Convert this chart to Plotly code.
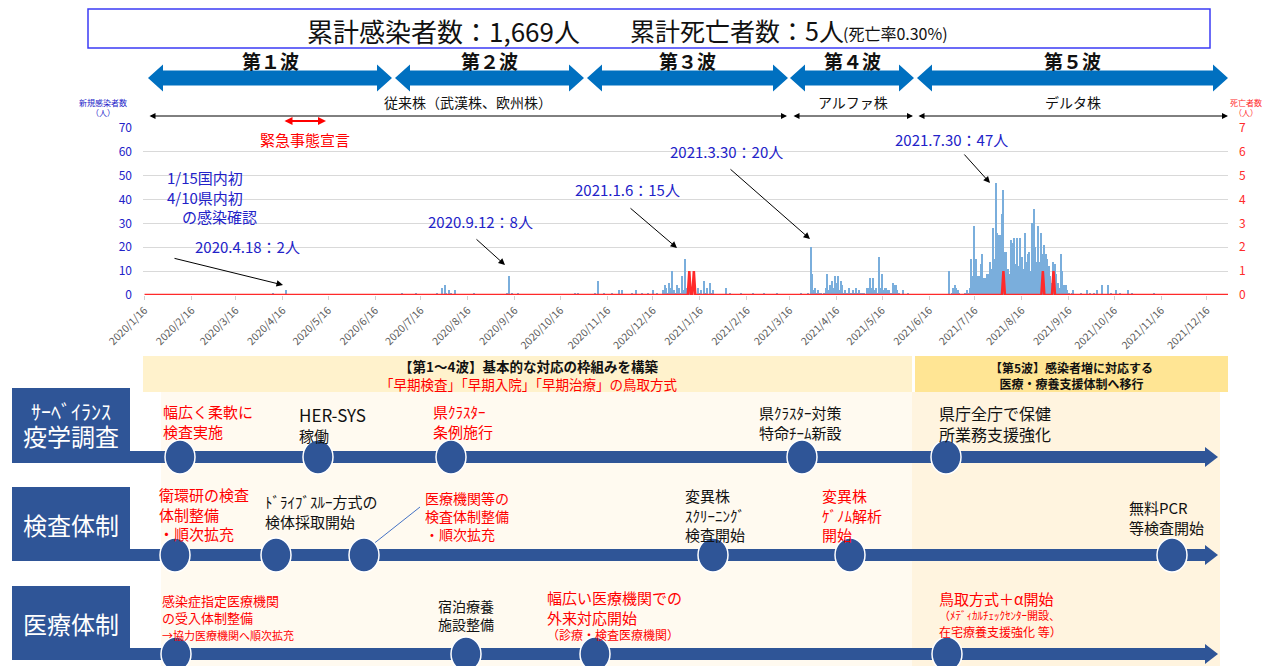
import pandas as pd
import plotly.graph_objects as go

W, H = 1274, 666
OX, OY = 8, 8          # the page puts the figure 8px in from the corner
FONT = "Noto Sans CJK JP"
NAVY = "#2f5597"
BLUE_TXT = "#2222c8"
RED = "#ff0000"

# ---------------- data ----------------
# days with new cases (sparse part)
case_dates = [
    "2020-04-10", "2020-04-18",
    "2020-07-04", "2020-07-13", "2020-07-27", "2020-07-30", "2020-08-01", "2020-08-02",
    "2020-08-04", "2020-08-05", "2020-08-08", "2020-08-20",
    "2020-09-11", "2020-09-12", "2020-09-14", "2020-09-18",
    "2020-10-26", "2020-10-28",
    "2020-11-08", "2020-11-10", "2020-11-14", "2020-11-19", "2020-11-24", "2020-11-26",
    "2020-12-02", "2020-12-05", "2020-12-09", "2020-12-13", "2020-12-16", "2020-12-19",
    "2021-02-02", "2021-02-05", "2021-02-12", "2021-02-20", "2021-02-27", "2021-03-08",
    "2021-03-24", "2021-03-28",
    "2021-06-29", "2021-07-01", "2021-07-02", "2021-07-03", "2021-07-04", "2021-07-05", "2021-07-06",
    "2021-09-24", "2021-09-28", "2021-09-30", "2021-10-03", "2021-10-05", "2021-10-08",
    "2021-10-12", "2021-10-14", "2021-10-17", "2021-10-20", "2021-10-25", "2021-10-28", "2021-11-11",
]
case_counts = [
    1, 2,
    1, 1, 1, 3, 4, 1,
    2, 1, 2, 1,
    1, 8, 1, 1,
    1, 1,
    1, 6, 1, 1, 2, 2,
    1, 2, 1, 1, 2, 1,
    3, 1, 1, 1, 1, 1,
    1, 1,
    10, 1, 3, 4, 3, 2, 1,
    1, 2, 1, 1, 2, 4,
    4, 1, 2, 1, 2, 1, 1,
]

# dense stretches: first day + daily counts
wave3_start = "2020-12-23"
wave3_counts = [2, 4, 3, 1, 5, 3, 10, 2, 1, 4, 3, 1, 8, 2, 15, 3, 1, 2, 0, 1, 0, 1, 0,
                3, 1, 2, 0, 6, 1, 3, 0, 5, 1, 2]
wave4_start = "2021-03-30"
wave4_counts = [20, 9, 2, 3, 1, 2, 1, 1, 0, 1, 3, 9, 2, 4, 6, 3, 8, 5, 8, 2, 6, 4, 1, 2, 1,
                3, 1, 1, 2, 1, 3, 1, 2, 1, 1, 1, 0, 3, 3, 7, 3, 7, 2, 3, 1, 16, 3, 9, 2, 3,
                3, 2, 2, 1, 5, 4, 4, 2, 1, 0, 0, 2, 0, 0, 1]
wave5_start = "2021-07-10"
wave5_counts = [1, 2, 1, 3, 15, 8, 29, 15, 8, 8, 13, 17, 7, 7, 9, 9, 14, 11, 28, 15, 47, 26,
                25, 25, 34, 44, 18, 18, 11, 9, 23, 22, 24, 13, 24, 12, 24, 16, 11, 26, 14, 17,
                18, 10, 30, 36, 20, 14, 29, 14, 26, 17, 21, 17, 15, 12, 8, 5, 14, 13, 9, 5,
                3, 17, 10, 4, 4, 2, 1, 0, 1, 2]

death_dates = ["2021-01-09", "2021-01-12", "2021-08-04", "2021-08-30", "2021-09-06"]

tick_labels = [
    "2020/1/16", "2020/2/16", "2020/3/16", "2020/4/16", "2020/5/16", "2020/6/16",
    "2020/7/16", "2020/8/16", "2020/9/16", "2020/10/16", "2020/11/16", "2020/12/16",
    "2021/1/16", "2021/2/16", "2021/3/16", "2021/4/16", "2021/5/16", "2021/6/16",
    "2021/7/16", "2021/8/16", "2021/9/16", "2021/10/16", "2021/11/16", "2021/12/16",
]

# ---------------- build series ----------------
parts = [pd.Series(case_counts, index=pd.to_datetime(case_dates))]
for start, vals in [(wave3_start, wave3_counts), (wave4_start, wave4_counts), (wave5_start, wave5_counts)]:
    parts.append(pd.Series(vals, index=pd.date_range(start, periods=len(vals))))
cases = pd.concat(parts).groupby(level=0).sum()
cases = cases[cases > 0]

days = pd.date_range("2020-01-16", "2021-12-30")
deaths = pd.Series(0, index=days)
deaths[pd.to_datetime(death_dates)] = 1

tick_vals = pd.to_datetime(tick_labels, format="%Y/%m/%d")


def px(x):
    return (x - OX) / W


def py(y):
    return 1 - (y - OY) / H


fig = go.Figure()
fig.add_trace(go.Bar(x=cases.index, y=cases.values, width=0.8 * 86400000,
                     marker=dict(color="#7aaedc", line=dict(width=0)), yaxis="y"))
fig.add_trace(go.Scatter(x=deaths.index, y=deaths.values, mode="lines",
                         line=dict(color="#ff2a2a", width=2.5), yaxis="y2"))

shapes = []
ann = []


def text(x, y, s, size=14, color="#111111", anchor="left", bold=False):
    # y is the centre of the first line; extra lines (<br>) hang below it
    if bold:
        s = "<b>" + s + "</b>"
    n = s.count("<br>")
    yc = y + n * 1.3 * size / 2
    ann.append(dict(x=px(x), y=py(yc), xref="paper", yref="paper", text=s, showarrow=False,
                    xanchor=anchor, yanchor="middle", align=anchor if anchor != "center" else "center",
                    font=dict(size=size, color=color, family=FONT)))


def arrow(x0, y0, x1, y1, color="black", width=1, both=False, head=2, size=1):
    a = dict(x=px(x1), y=py(y1), xref="paper", yref="paper", ax=x0 - x1, ay=y0 - y1,
             text="", showarrow=True, arrowhead=head, arrowsize=size, arrowwidth=width,
             arrowcolor=color)
    if both:
        a.update(arrowside="end+start", startarrowhead=head, startarrowsize=size)
    ann.append(a)


def rect(x0, y0, x1, y1, fill, line=None, lw=0):
    shapes.append(dict(type="rect", xref="paper", yref="paper", x0=px(x0), x1=px(x1),
                       y0=py(y1), y1=py(y0), fillcolor=fill,
                       line=dict(color=line or fill, width=lw)))


def poly(pts, fill):
    path = "M " + " L ".join(f"{px(x):.5f},{py(y):.5f}" for x, y in pts) + " Z"
    shapes.append(dict(type="path", xref="paper", yref="paper", path=path,
                       fillcolor=fill, line=dict(width=0)))


def circle(cx, cy, rx=15, ry=17):
    shapes.append(dict(type="circle", xref="paper", yref="paper", x0=px(cx - rx), x1=px(cx + rx),
                       y0=py(cy + ry), y1=py(cy - ry), fillcolor=NAVY,
                       line=dict(color="white", width=1.5)))


# ---------------- header ----------------
rect(88, 9, 1210, 48, "white", "#3b3bf5", 1.5)
text(305, 30, "累計感染者数：1,669人", 26)
text(628, 30, "累計死亡者数：5人", 25)
text(841, 33, "(死亡率0.30%)", 16)

waves = [("第１波", 148, 392), ("第２波", 395, 584), ("第３波", 587, 788),
         ("第４波", 790, 914), ("第５波", 917, 1228)]
for name, x0, x1 in waves:
    yc, b, h, hl = 78, 7.5, 13.5, 15
    poly([(x0, yc), (x0 + hl, yc - h), (x0 + hl, yc - b), (x1 - hl, yc - b), (x1 - hl, yc - h),
          (x1, yc), (x1 - hl, yc + h), (x1 - hl, yc + b), (x0 + hl, yc + b), (x0 + hl, yc + h)],
         "#0070c0")
    text((x0 + x1) / 2, 60, name, 19, anchor="center", bold=True)

strains = [("従来株（武漢株、欧州株）", 148, 787), ("アルファ株", 792, 913), ("デルタ株", 917, 1228)]
for name, x0, x1 in strains:
    arrow(x0, 116, x1, 116, both=True, head=2, size=1.2)
    text((x0 + x1) / 2, 102, name, 14, anchor="center")

text(103, 102, "新規感染者数<br>（人）", 8, BLUE_TXT, "center")
text(1246, 102, "死亡者数<br>（人）", 8, "#ff2a2a", "center")

# emergency declaration
arrow(283, 121, 326, 121, color=RED, width=2, both=True, head=2, size=0.8)
text(305, 140, "緊急事態宣言", 15, RED, "center")

text(165, 178, "1/15国内初<br>4/10県内初<br>　の感染確認", 15, BLUE_TXT)

callouts = [
    ("2020.4.18：2人", 247, 247, 173, 258, 283, 285),
    ("2020.9.12：8人", 480, 221, 475, 238, 505, 265),
    ("2021.1.6：15人", 627, 190, 629, 207, 677, 248),
    ("2021.3.30：20人", 726, 151, 729, 168, 810, 239),
    ("2021.7.30：47人", 951, 140, 963, 153, 990, 183),
]
for s, tx, ty, ax0, ay0, ax1, ay1 in callouts:
    text(tx, ty, s, 15, BLUE_TXT, "center")
    arrow(ax0, ay0, ax1, ay1, head=2, size=1.3)

# ---------------- lower timeline ----------------
rect(161, 392, 912, 680, "#fffaf0")
rect(912, 392, 1220, 680, "#fff4df")
rect(143, 356, 912, 392, "#fff2cc")
rect(915, 356, 1228, 392, "#ffe594")
text(528, 366, "<b>【第1～4波】基本的な対応の枠組みを構築</b><br>"
     "<span style='color:#ff0000'>「早期検査」「早期入院」「早期治療」の鳥取方式</span>",
     13.5, anchor="center")
text(1071, 368, "【第5波】感染者増に対応する<br>医療・療養支援体制へ移行", 12, anchor="center", bold=True)

rows = [
    ("ｻｰﾍﾞｲﾗﾝｽ<br><span style='font-size:24px'>疫学調査</span>", 388, 457, [180, 318, 451, 802, 946]),
    ("検査体制", 487, 555, [175, 276, 364, 713, 850, 1172]),
    ("医療体制", 586, 654, [176, 466, 595, 947]),
]
for label, top, cy, dots in rows:
    rect(12, top, 130, cy + 6, NAVY)
    rect(130, cy - 6, 1207, cy + 6, NAVY)
    poly([(1205, cy - 10), (1218, cy), (1205, cy + 10)], NAVY)
    if "<br>" in label:
        text(71, top + 24, label, 20, "white", "center")
    else:
        text(71, (top + cy + 6) / 2, label, 24, "white", "center")

shapes.append(dict(type="line", xref="paper", yref="paper", x0=px(372), y0=py(545),
                   x1=px(420), y1=py(507), line=dict(color="#4472c4", width=1)))
for label, top, cy, dots in rows:
    for cx in dots:
        circle(cx, cy)

# row 1
text(161, 412, "幅広く柔軟に<br>検査実施", 15, RED)
text(297, 414, "<span style='font-size:17px'>HER-SYS</span><br>稼働", 15)
text(431, 412, "県ｸﾗｽﾀｰ<br>条例施行", 15, RED)
text(757, 413, "県ｸﾗｽﾀｰ対策<br>特命ﾁｰﾑ新設", 15)
text(937, 413, "県庁全庁で保健<br>所業務支援強化", 16)
# row 2
text(157, 494, "衛環研の検査<br>体制整備<br>・順次拡充", 15, RED)
text(263, 502, "ﾄﾞﾗｲﾌﾞｽﾙｰ方式の<br>検体採取開始", 15)
text(423, 498, "医療機関等の<br>検査体制整備<br>・順次拡充", 14, RED)
text(683, 496, "変異株<br>ｽｸﾘｰﾆﾝｸﾞ<br>検査開始", 15)
text(820, 496, "変異株<br>ｹﾞﾉﾑ解析<br>開始", 15, RED)
text(1127, 508, "無料PCR<br>等検査開始", 15)
# row 3
text(160, 601, "感染症指定医療機関<br>の受入体制整備", 13, RED)
text(160, 635, "→協力医療機関へ順次拡充", 11, RED)
text(436, 606, "宿泊療養<br>施設整備", 14)
text(545, 598, "幅広い医療機関での<br>外来対応開始", 15, RED)
text(545, 634, "（診療・検査医療機関）", 12, RED)
text(937, 598, "鳥取方式＋α開始", 15, RED)
text(937, 615, "（ﾒﾃﾞｨｶﾙﾁｪｯｸｾﾝﾀｰ開設、", 11, RED)
text(937, 631, "在宅療養支援強化 等）", 12, RED)

fig.update_layout(
    width=W, height=H, margin=dict(l=0, r=0, t=0, b=0, autoexpand=False),
    paper_bgcolor="white", plot_bgcolor="rgba(0,0,0,0)",
    showlegend=False, bargap=0, font=dict(family=FONT),
    xaxis=dict(domain=[px(143), px(1228)], type="date", automargin=False,
               range=["2020-01-15", "2021-12-30"],
               tickvals=tick_vals, ticktext=tick_labels, tickangle=-45,
               tickfont=dict(size=10.5, color="#595959"), ticks="outside", ticklen=4,
               tickcolor="#d0d0d0", showgrid=False, zeroline=False, showline=False),
    yaxis=dict(domain=[py(295), py(128)], range=[0, 70], dtick=10, automargin=False,
               gridcolor="#d9d9d9", gridwidth=1, zeroline=False,
               tickfont=dict(size=12, color=BLUE_TXT), ticklabelstandoff=10),
    yaxis2=dict(overlaying="y", side="right", anchor="x", range=[0, 7], dtick=1,
                showgrid=False, zeroline=False, automargin=False,
                tickfont=dict(size=12, color="#ff2a2a"), ticklabelstandoff=10),
    shapes=shapes, annotations=ann,
)

fig.write_html("out.html")
